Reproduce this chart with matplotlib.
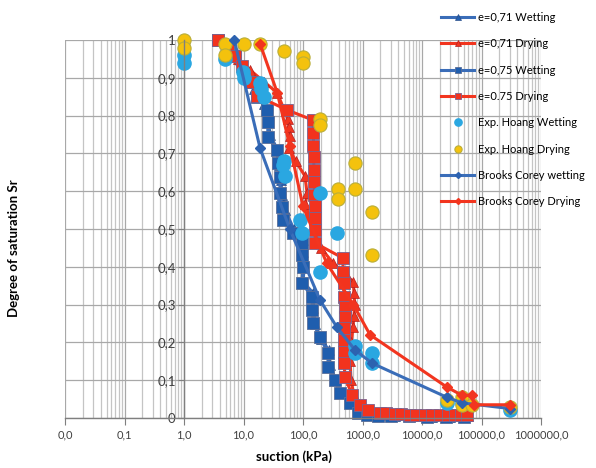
import matplotlib
matplotlib.use("Agg")
import matplotlib.pyplot as plt

plt.rcParams['font.family'] = ['Lato', 'DejaVu Sans']

# --- data (suction in kPa, degree of saturation Sr) ---
e71_wet_x = [3.7, 6, 10, 15, 22, 26, 28, 37, 40, 42, 45, 50, 70, 100, 100, 105, 100, 150, 150, 160, 200, 270, 280, 360, 440, 640, 880, 1300, 2000, 3500, 7000, 15000, 30000, 50000]
e71_wet_y = [1.0, 0.96, 0.91, 0.87, 0.83, 0.79, 0.75, 0.71, 0.67, 0.63, 0.59, 0.55, 0.50, 0.47, 0.44, 0.40, 0.36, 0.33, 0.29, 0.25, 0.21, 0.18, 0.14, 0.10, 0.07, 0.04, 0.02, 0.01, 0.007, 0.005, 0.004, 0.003, 0.003, 0.003]

e71_dry_x = [3.7, 5, 8, 13, 22, 37, 56, 58, 60, 58, 75, 108, 117, 110, 150, 200, 320, 520, 700, 720, 740, 720, 690, 650, 620, 640, 720, 900, 1500, 3000, 10000, 30000, 60000]
e71_dry_y = [1.0, 0.98, 0.95, 0.92, 0.89, 0.86, 0.79, 0.77, 0.745, 0.715, 0.68, 0.64, 0.595, 0.565, 0.50, 0.45, 0.41, 0.38, 0.36, 0.33, 0.30, 0.27, 0.24, 0.20, 0.15, 0.10, 0.06, 0.03, 0.015, 0.01, 0.008, 0.006, 0.005]

e75_wet_x = [3.7, 7.2, 14, 17, 25, 25.6, 25.6, 36.6, 38, 41, 41, 44.5, 46, 68, 96, 96, 100, 96, 143, 143, 148, 193, 263, 263, 342, 415, 611, 835,
             1200, 1800, 3000, 6000, 12000, 25000, 50000]
e75_wet_y = [1.0, 0.958, 0.89, 0.85, 0.815, 0.783, 0.743, 0.709, 0.675, 0.638, 0.595, 0.558, 0.524, 0.489, 0.463, 0.431, 0.399, 0.357, 0.32, 0.286, 0.251, 0.214, 0.172, 0.135, 0.10, 0.066, 0.04, 0.013,
             0.008, 0.006, 0.005, 0.004, 0.003, 0.003, 0.002]

e75_dry_x = [3.7, 5.5, 7.2, 9.5, 13.9, 16.9, 54, 147, 150, 150, 152, 152, 155, 155, 157, 157, 159, 159,
             470, 470, 480, 490, 500, 500, 490, 480, 480, 490, 508, 667, 908, 1240,
             1970, 2500, 3540, 4500, 6300, 8000, 11200, 15000, 20000, 27000, 35500, 45000, 58000]
e75_dry_y = [1.0, 0.975, 0.958, 0.93, 0.889, 0.852, 0.815, 0.788, 0.755, 0.72, 0.69, 0.655, 0.625, 0.59, 0.56, 0.53, 0.497, 0.463,
             0.423, 0.386, 0.357, 0.320, 0.294, 0.267, 0.238, 0.206, 0.175, 0.146, 0.108, 0.061, 0.034, 0.021,
             0.013, 0.012, 0.011, 0.01, 0.008, 0.008, 0.008, 0.008, 0.007, 0.007, 0.007, 0.007, 0.007]

hoang_wet_x = [1, 1, 4.9, 9.8, 10, 19, 20, 22, 46, 48, 50, 89, 95, 193, 193, 372, 748, 748, 1445, 1445, 26000, 47000, 300000]
hoang_wet_y = [0.96, 0.94, 0.95, 0.915, 0.90, 0.886, 0.87, 0.85, 0.67, 0.68, 0.64, 0.524, 0.49, 0.595, 0.386, 0.49, 0.19, 0.172, 0.172, 0.145, 0.04, 0.04, 0.02]

hoang_dry_x = [1, 1, 4.9, 4.9, 10, 19, 48, 100, 100, 193, 193, 748, 390, 390, 748, 1445, 1445, 26000, 47000, 47000, 69000, 300000]
hoang_dry_y = [1.0, 0.98, 0.99, 0.96, 0.99, 0.99, 0.97, 0.955, 0.94, 0.79, 0.775, 0.675, 0.605, 0.58, 0.605, 0.545, 0.43, 0.048, 0.056, 0.035, 0.035, 0.03]

bc_wet_x = [7, 19, 60, 193, 372, 748, 1445, 26000, 47000, 300000]
bc_wet_y = [1.0, 0.714, 0.5, 0.312, 0.24, 0.18, 0.145, 0.055, 0.04, 0.025]

bc_dry_x = [19, 37, 60, 100, 250, 700, 1340, 26000, 47000, 69000, 75000, 300000]
bc_dry_y = [0.99, 0.86, 0.72, 0.56, 0.41, 0.30, 0.22, 0.082, 0.06, 0.06, 0.035, 0.035]

x_ticks = [0.01, 0.1, 1, 10, 100, 1000, 10000, 100000, 1000000]
x_labels = ["0,0", "0,1", "1,0", "10,0", "100,0", "1000,0", "10000,0", "100000,0", "1000000,0"]
y_ticks = [0, 0.1, 0.2, 0.3, 0.4, 0.5, 0.6, 0.7, 0.8, 0.9, 1.0]
y_labels = ["0", "0,1", "0,2", "0,3", "0,4", "0,5", "0,6", "0,7", "0,8", "0,9", "1"]

blue = "#3A6DB8"
red = "#F2351F"

fig = plt.figure(figsize=(5.96, 4.68), dpi=100)
ax = fig.add_axes([65/596, 50/468, 476/596, 378/468])

h1, = ax.plot(e71_wet_x, e71_wet_y, color=blue, lw=2.2, marker="^", ms=7, mfc="#2460B0", mec="#2a4f8a", mew=0.5, label="e=0,71 Wetting")
h2, = ax.plot(e71_dry_x, e71_dry_y, color=red, lw=2.2, marker="^", ms=7.5, mfc=red, mec="#b02020", mew=0.5, label="e=0,71 Drying")
h3, = ax.plot(e75_wet_x, e75_wet_y, color=blue, lw=2.2, marker="s", ms=8.5, mfc="#1F5EAE", mec="#5a6e98", mew=0.6, label="e=0,75 Wetting")
h4, = ax.plot(e75_dry_x, e75_dry_y, color=red, lw=2.2, marker="s", ms=8.5, mfc="#F2331E", mec="#7a6290", mew=0.6, label="e=0.75 Drying")
h5, = ax.plot(hoang_wet_x, hoang_wet_y, ls="none", marker="o", ms=9.5, mfc="#2AA7E1", mec="#2AA7E1", label="Exp. Hoang Wetting")
h6, = ax.plot(hoang_dry_x, hoang_dry_y, ls="none", marker="o", ms=9.5, mfc="#F4C20D", mec="#B9AE3A", mew=0.8, label="Exp. Hoang Drying")
h7, = ax.plot(bc_wet_x, bc_wet_y, color=blue, lw=2.2, marker="D", ms=5.5, mfc="#2C62B0", mec="#2C62B0", label="Brooks Corey wetting")
h8, = ax.plot(bc_dry_x, bc_dry_y, color=red, lw=2.2, marker="D", ms=5.5, mfc=red, mec=red, label="Brooks Corey Drying")
for h in [h1, h2, h3, h4, h5, h6, h7, h8]:
    h.set_clip_on(False)

ax.set_xscale("log")
ax.set_xlim(0.01, 1000000)
ax.set_ylim(0, 1)
ax.set_xticks(x_ticks)
ax.set_xticklabels(x_labels)
ax.set_yticks(y_ticks)
ax.set_yticklabels(y_labels)
ax.xaxis.set_minor_formatter(matplotlib.ticker.NullFormatter())

ax.spines["left"].set_position(("data", 1))
ax.spines["top"].set_visible(False)
ax.spines["right"].set_visible(False)
for s in ["left", "bottom"]:
    ax.spines[s].set_color("#7f7f7f")
    ax.spines[s].set_linewidth(1.0)

ax.grid(which="major", color="#a8a8a8", lw=0.9)
ax.grid(which="minor", axis="x", color="#c4c4c4", lw=0.9)
ax.set_axisbelow(True)
ax.tick_params(axis="x", which="major", direction="out", length=5, color="#7f7f7f", labelsize=8, pad=3, labelcolor="#404040")
ax.tick_params(axis="x", which="minor", length=0)
ax.tick_params(axis="y", direction="out", length=4, color="#7f7f7f", labelsize=9.5, pad=2, labelcolor="#404040")

ax.set_xlabel("suction (kPa)", fontsize=9.5, fontweight="bold")
ax.xaxis.set_label_coords(0.48, -0.085)
ax.set_ylabel("Degree of saturation Sr", fontsize=9.5, fontweight="bold")
ax.yaxis.set_label_coords(-0.095, 0.45)

fig.legend(handles=[h1, h2, h3, h4, h5, h6, h7, h8], loc="upper left", bbox_to_anchor=(441/596, 1 - 12/468),
           frameon=False, fontsize=8, labelspacing=1.38, handlelength=3.0, handletextpad=0.3,
           borderpad=0, borderaxespad=0, markerscale=0.55)

fig.savefig("out.png", dpi=100)
